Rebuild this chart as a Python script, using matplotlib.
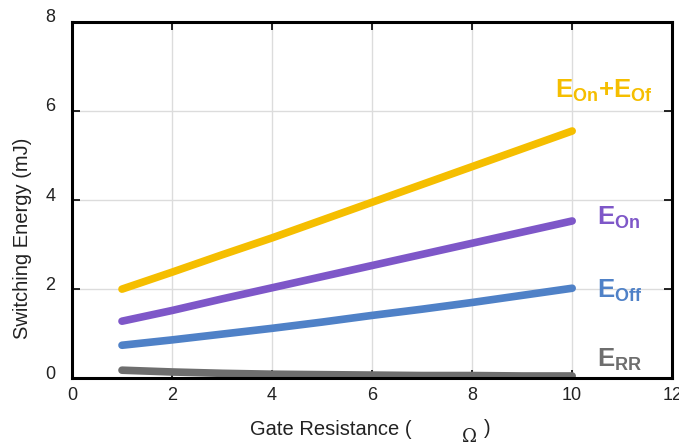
import numpy as np
import matplotlib.pyplot as plt
from matplotlib.transforms import ScaledTranslation

plt.rcParams['font.family'] = 'Liberation Sans'
plt.rcParams['mathtext.fontset'] = 'custom'
plt.rcParams['mathtext.rm'] = 'Liberation Sans:bold'
plt.rcParams['mathtext.bf'] = 'Liberation Sans:bold'
plt.rcParams['mathtext.it'] = 'Liberation Sans:bold'

# gate resistance (ohm) and switching energies (mJ)
rg = [1, 2, 3, 4, 5, 6, 7, 8, 9, 10]
e_total = [2.00, 2.38, 2.77, 3.15, 3.55, 3.95, 4.35, 4.75, 5.15, 5.55]
e_on = [1.28, 1.52, 1.78, 2.03, 2.28, 2.53, 2.78, 3.03, 3.28, 3.53]
e_off = [0.74, 0.86, 0.99, 1.12, 1.26, 1.41, 1.55, 1.70, 1.86, 2.02]
e_rr = [0.18, 0.14, 0.11, 0.09, 0.08, 0.07, 0.06, 0.06, 0.05, 0.05]

colors = {'total': '#F5BE00', 'on': '#7E57C8', 'off': '#4F81C7', 'rr': '#6E6E6E'}

fig = plt.figure(figsize=(6.79, 4.46), dpi=100)
ax = fig.add_axes([0.106, 0.152, 0.884, 0.799])

ax.plot(rg, e_total, color=colors['total'], lw=5.5, solid_capstyle='round')
ax.plot(rg, e_on, color=colors['on'], lw=5.5, solid_capstyle='round')
ax.plot(rg, e_off, color=colors['off'], lw=5.5, solid_capstyle='round')
ax.plot(rg, e_rr, color=colors['rr'], lw=5.5, solid_capstyle='round')

ax.set_xlim(0, 12)
ax.set_ylim(0, 8)
ax.set_xticks([0, 2, 4, 6, 8, 10, 12])
ax.set_yticks([0, 2, 4, 6, 8])
ax.grid(True, color='#dcdcdc', lw=1)
ax.set_axisbelow(True)
ax.tick_params(direction='in', length=6, width=1.2, top=True, right=True,
               labelsize=13, colors='black', labelcolor='#222222')
ax.tick_params(axis='x', pad=6)
ax.tick_params(axis='y', pad=12)
for s in ax.spines.values():
    s.set_linewidth(2.2)

# y tick labels sit a little above their ticks in the original
for lab in ax.get_yticklabels():
    lab.set_transform(lab.get_transform() + ScaledTranslation(0, 0.06, fig.dpi_scale_trans))

fig.text(23 / 679, 1 - 238 / 446, 'Switching Energy (mJ)', fontsize=14.5, color='#222222',
         rotation=90, ha='center', va='center')

# x label with the ohm sign set apart, as in the original
fig.text(412 / 679, 1 - 435 / 446, 'Gate Resistance (', fontsize=14.5, color='#222222', ha='right')
fig.text(462 / 679, 1 - 442 / 446, '\u03a9', fontsize=13, family='DejaVu Serif', color='#222222',
         ha='left', va='baseline')
fig.text(484 / 679, 1 - 434 / 446, ')', fontsize=14.5, color='#222222', ha='left')

lab_kw = dict(fontsize=18.5, va='baseline', ha='left')
ax.text(9.66, 6.29, r'$\mathrm{E_{On}{+}E_{Of}}$', color=colors['total'], **lab_kw)
ax.text(10.5, 3.44, r'$\mathrm{E_{On}}$', color=colors['on'], **lab_kw)
ax.text(10.5, 1.80, r'$\mathrm{E_{Off}}$', color=colors['off'], **lab_kw)
ax.text(10.5, 0.25, r'$\mathrm{E_{RR}}$', color=colors['rr'], **lab_kw)

fig.savefig('out.png', dpi=100)
